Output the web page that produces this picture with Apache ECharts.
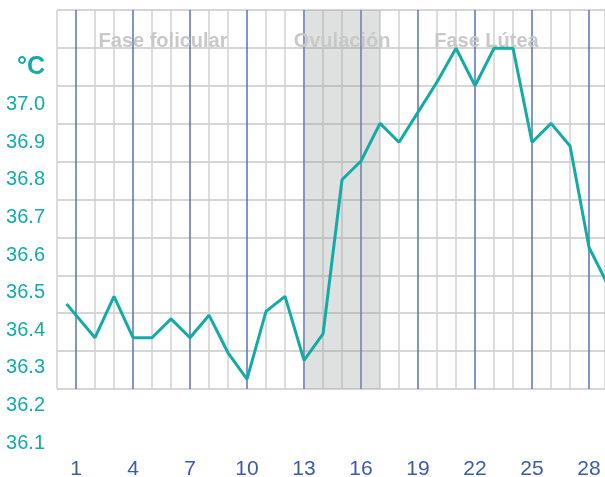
<!DOCTYPE html>
<html>
<head>
<meta charset="utf-8">
<script src="https://cdn.jsdelivr.net/npm/echarts@6/dist/echarts.min.js"></script>
<style>
  html, body { margin: 0; padding: 0; background: #fff; }
  #tempChart { width: 605px; height: 477px; }
</style>
</head>
<body>
<div id="tempChart"></div>
<script>
// dias del ciclo y temperatura basal (°C)
const days = [0.5, 2, 3, 4, 5, 6, 7, 8, 9, 10, 11, 12, 13, 14, 15, 16, 17, 18, 19, 20, 21, 22, 23, 24, 25, 26, 27, 28, 29];
const temps = [36.47, 36.38, 36.49, 36.38, 36.38, 36.43, 36.38, 36.44, 36.34, 36.27, 36.45, 36.49, 36.32, 36.39,
  36.80, 36.85, 36.95, 36.90, 36.98, 37.06, 37.15, 37.05, 37.15, 37.15, 36.90, 36.95, 36.89, 36.62, 36.52];
const xTicks = [1, 4, 7, 10, 13, 16, 19, 22, 25, 28];
const yTicks = [36.1, 36.2, 36.3, 36.4, 36.5, 36.6, 36.7, 36.8, 36.9, 37.0];
const phases = [
  { name: "Fase folicular", from: 0, to: 11.16 },
  { name: "Ovulación", from: 13, to: 17 },
  { name: "Fase Lútea", from: 17, to: 28.2 }
];

const font = "'Liberation Sans', Arial, sans-serif";
const teal = "#13aba6";
const blue = "#3b5ba8";
const xMax = 28.84;

let chart = echarts.init(document.getElementById("tempChart"));

let option = {
  animation: false,
  grid: [
    { left: 57, right: 0, top: 10, bottom: 88, outerBoundsMode: "none" }, // rejilla
    { left: 57, right: 0, top: 67, bottom: 34, outerBoundsMode: "none" }  // escala de temperatura
  ],
  xAxis: [
    {
      gridIndex: 0,
      type: "value",
      min: 0,
      max: xMax,
      interval: 1,
      axisLine: { show: false },
      axisTick: { show: false },
      axisLabel: {
        color: blue,
        fontSize: 21,
        fontFamily: font,
        margin: 70,
        formatter: v => (xTicks.indexOf(v) > -1 ? String(v) : "")
      },
      splitLine: {
        show: true,
        lineStyle: { color: ["#d2d2d2", "#5872b8", "#d2d2d2"], width: 1.5 }
      }
    },
    { gridIndex: 1, type: "value", min: 0, max: xMax, show: false }
  ],
  yAxis: [
    {
      gridIndex: 0,
      type: "value",
      min: 0,
      max: 10,
      interval: 1,
      axisLine: { show: false },
      axisTick: { show: false },
      axisLabel: { show: false },
      splitLine: { lineStyle: { color: "#c9c9c9", width: 1.5 } }
    },
    {
      gridIndex: 1,
      type: "value",
      min: 36.1,
      max: 37.1,
      interval: 0.1,
      axisLine: { show: false },
      axisTick: { show: false },
      splitLine: { show: false },
      axisLabel: {
        color: teal,
        fontSize: 20,
        fontFamily: font,
        margin: 12,
        formatter: function(v) {
          let r = Math.round(v * 10) / 10;
          if (yTicks.indexOf(r) > -1) return r.toFixed(1);
          return "{c|°C}";
        },
        rich: {
          c: { color: teal, fontSize: 25, fontWeight: "bold", fontFamily: font }
        }
      }
    }
  ],
  series: [
    {
      // solo para las fases
      type: "line",
      xAxisIndex: 0,
      yAxisIndex: 0,
      data: [],
      silent: true,
      markArea: {
        silent: true,
        data: phases.map((p, i) => [
          {
            name: p.name,
            xAxis: p.from,
            itemStyle: { color: i === 1 ? "rgba(150,153,153,0.3)" : "rgba(0,0,0,0)" }
          },
          { xAxis: p.to }
        ]),
        label: {
          show: true,
          position: "insideTop",
          distance: 21,
          color: "#c8c8c8",
          fontSize: 20,
          fontWeight: "bold",
          fontFamily: font
        }
      }
    },
    {
      name: "Temperatura",
      type: "line",
      xAxisIndex: 1,
      yAxisIndex: 1,
      clip: false,
      symbol: "none",
      lineStyle: { color: teal, width: 3 },
      z: 5,
      data: days.map((d, i) => [d, temps[i]])
    }
  ]
};
chart.setOption(option);
</script>
</body>
</html>
